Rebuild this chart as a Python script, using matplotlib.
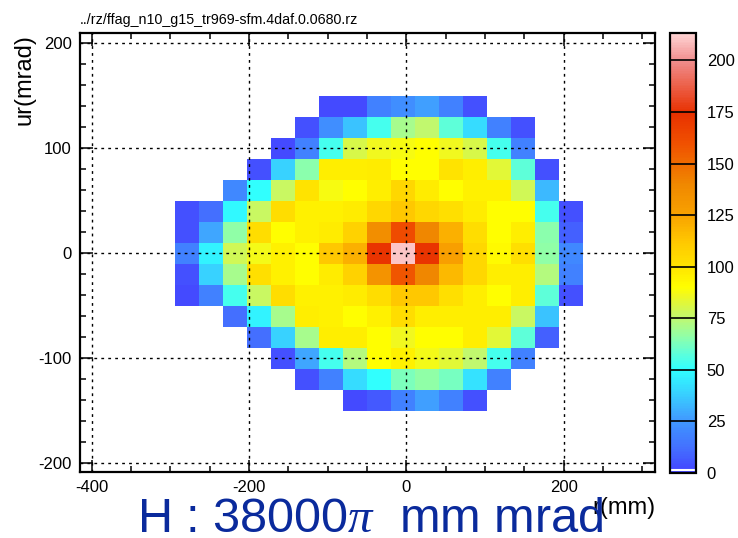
import numpy as np
import matplotlib
matplotlib.use("Agg")
import matplotlib.pyplot as plt
from matplotlib.colors import LinearSegmentedColormap

plt.rcParams['font.family'] = ['Liberation Sans', 'DejaVu Sans']
plt.rcParams['axes.unicode_minus'] = False
plt.rcParams['mathtext.fontset'] = 'custom'
plt.rcParams['mathtext.it'] = 'Liberation Serif:italic'
plt.rcParams['mathtext.rm'] = 'Liberation Sans'

# r (mm) bins: 17 bins of 30.5 mm, ur (mrad) bins: 15 bins of 20 mrad
x_edges = -294.0 + 30.5 * np.arange(18)
y_edges = np.arange(-150, 151, 20)

n = np.nan
# rows listed from top (ur = +140) to bottom (ur = -140)
counts = [
    [n, n, n, n, n, n, 2, 2, 18, 22, 27, 18, 4, n, n, n, n],
    [n, n, n, n, n, 4, 22, 35, 54, 70, 75, 58, 41, 18, 4, n, n],
    [n, n, n, n, 2, 18, 54, 80, 86, 88, 90, 86, 80, 54, 18, n, n],
    [n, n, n, 4, 39, 65, 96, 96, 97, 90, 90, 100, 96, 83, 58, 4, n],
    [n, n, 20, 50, 77, 100, 88, 90, 96, 105, 97, 90, 95, 95, 79, 33, n],
    [4, 12, 49, 77, 103, 95, 95, 97, 105, 112, 105, 102, 97, 90, 90, 54, 4],
    [4, 29, 66, 103, 90, 95, 97, 108, 136, 162, 140, 120, 103, 90, 96, 65, 8],
    [18, 47, 79, 87, 95, 90, 112, 120, 173, 210, 173, 126, 105, 92, 102, 66, 20],
    [4, 39, 70, 102, 95, 90, 97, 108, 134, 158, 140, 117, 105, 96, 96, 73, 18],
    [2, 18, 54, 77, 103, 95, 95, 97, 103, 112, 112, 102, 96, 90, 96, 58, 4],
    [n, n, 12, 47, 70, 96, 95, 90, 95, 103, 96, 96, 96, 96, 77, 35, n],
    [n, n, n, 12, 39, 70, 96, 96, 90, 86, 90, 90, 96, 83, 58, 8, n],
    [n, n, n, n, 4, 29, 54, 73, 90, 95, 87, 83, 75, 54, 18, n, n],
    [n, n, n, n, n, 4, 18, 41, 50, 63, 66, 62, 43, 18, n, n, n],
    [n, n, n, n, n, n, n, 2, 6, 18, 27, 18, 4, n, n, n, n],
]

z_max = 213.3
palette_levels = [0, 12, 20, 27, 38, 50, 58, 66, 75, 86, 90, 100, 112, 126, 140, 160, 175, 200, z_max]
palette_colors = ['#4444ff', '#4470ff', '#4088ff', '#40a0ff', '#38d0ff', '#30ffff', '#60ffd8',
                  '#90ffa8', '#c0f870', '#f0f820', '#ffff00', '#ffe400', '#ffc800', '#f8a000',
                  '#f08800', '#f05000', '#e83000', '#f08c8c', '#ffd4d4']
cmap = LinearSegmentedColormap.from_list(
    'root_rainbow', list(zip(np.array(palette_levels) / z_max, palette_colors)))

W, H = 738, 538
fig = plt.figure(figsize=(W / 100, H / 100), dpi=100)
ax = fig.add_axes([80 / W, 1 - 472 / H, 575 / W, 439 / H])

z = np.ma.masked_invalid(np.array(counts, dtype=float)[::-1])
mesh = ax.pcolormesh(x_edges, y_edges, z, cmap=cmap, vmin=0, vmax=z_max)

ax.set_xlim(-415, 316)
ax.set_ylim(-208.5, 210)
ax.set_xticks([-400, -200, 0, 200])
ax.set_yticks([-200, -100, 0, 100, 200])
ax.set_xticks(np.arange(-400, 301, 50), minor=True)
ax.set_yticks(np.arange(-200, 201, 20), minor=True)
ax.tick_params(which='both', direction='in', top=True, right=True, width=1.1, labelsize=12)
ax.tick_params(which='major', length=9)
ax.tick_params(which='minor', length=4.5)
ax.tick_params(axis='x', pad=6)
ax.tick_params(axis='y', pad=6)
ax.grid(True, which='major', color='black', linestyle=(0, (2, 3)), linewidth=1)
for s in ax.spines.values():
    s.set_linewidth(1.6)

# palette axis
cax = fig.add_axes([670 / W, 1 - 473 / H, 25.7 / W, 440 / H])
cb = fig.colorbar(mesh, cax=cax)
cb.outline.set_linewidth(1.6)
cb.set_ticks([0, 25, 50, 75, 100, 125, 150, 175, 200])
cax.tick_params(length=0, labelsize=12, pad=8)
for lev in [25, 50, 75, 100, 125, 150, 175, 200]:
    cax.axhline(lev, color='black', linewidth=1.2)
cax.axhline(1.5, color='white', linewidth=1.5)

fig.text(80 / W, 1 - 24 / H, '../rz/ffag_n10_g15_tr969-sfm.4daf.0.0680.rz', fontsize=10.3, va='baseline')
fig.text(25 / W, 1 - 34 / H, 'ur(mrad)', fontsize=17, rotation=90, ha='center', va='top')
fig.text(655 / W, 1 - 514 / H, 'r(mm)', fontsize=17, ha='right', va='baseline')
fig.text(137 / W, 1 - 532 / H, r'H : 38000$\pi$  mm mrad', fontsize=35, color='#0a2a9c', va='baseline')

fig.savefig('out.png', dpi=100)
